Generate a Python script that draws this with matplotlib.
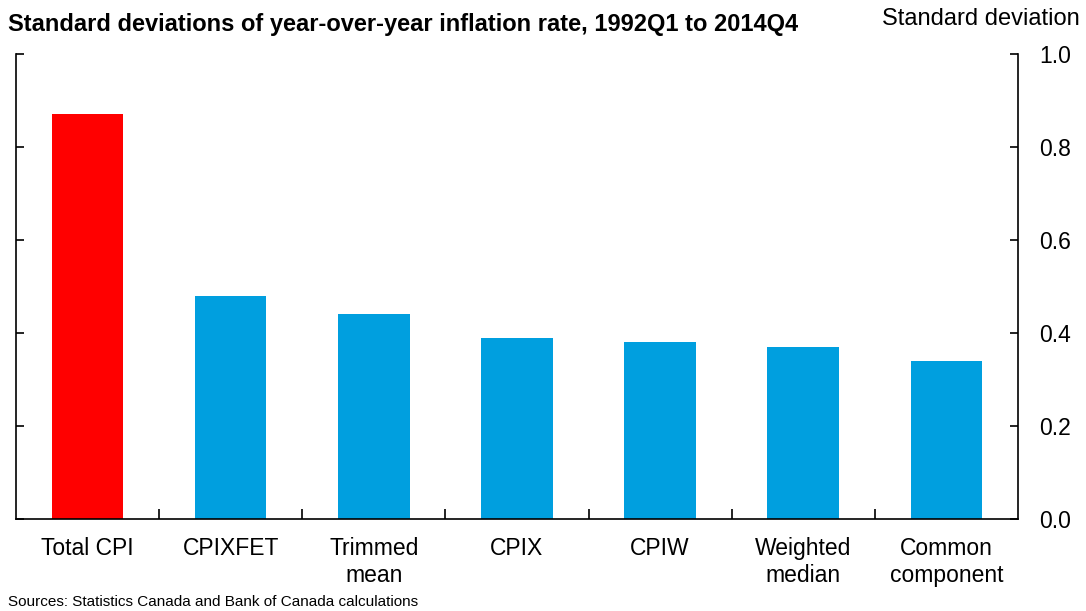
import matplotlib.pyplot as plt
import numpy as np

plt.rcParams['font.family'] = ['Liberation Sans', 'DejaVu Sans']

categories = ["Total CPI", "CPIXFET", "Trimmed\nmean", "CPIX", "CPIW", "Weighted\nmedian", "Common\ncomponent"]
std_dev = [0.87, 0.48, 0.44, 0.39, 0.38, 0.37, 0.34]
bar_colors = ["#FF0000"] + ["#009FDF"] * 6
yticks = [0.0, 0.2, 0.4, 0.6, 0.8, 1.0]

fig = plt.figure(figsize=(10.86, 6.11), dpi=100)
ax = fig.add_axes([16 / 1086, 1 - 519 / 611, (1018 - 16) / 1086, (519 - 54) / 611])

x = np.arange(len(categories))
ax.bar(x, std_dev, width=0.5, color=bar_colors)

ax.set_xlim(-0.5, len(categories) - 0.5)
ax.set_ylim(0, 1.0)

# right axis labels, ticks inward on both sides
ax.set_yticks(yticks)
ax.yaxis.tick_right()
ax.tick_params(axis='y', which='both', direction='in', length=6, width=1.2,
               left=True, right=True, labelleft=False, labelright=True,
               labelsize=16.5, pad=15.5)
ax.set_yticklabels([f"{v:.1f}" for v in yticks])

# category labels centred, ticks between categories
ax.set_xticks(x)
ax.set_xticklabels(categories, fontsize=16.5, linespacing=1.2)
ax.tick_params(axis='x', which='major', length=0, pad=13)
ax.set_xticks(np.arange(0.5, len(categories) - 0.5, 1), minor=True)
ax.tick_params(axis='x', which='minor', direction='in', length=7, width=1.2)

ax.spines['top'].set_visible(False)
for s in ['left', 'right', 'bottom']:
    ax.spines[s].set_linewidth(1.2)

fig.text(8 / 1086, 1 - 31 / 611, "Standard deviations of year-over-year inflation rate, 1992Q1 to 2014Q4",
         fontsize=17, fontweight='bold', va='baseline', ha='left')
fig.text(882 / 1086, 1 - 25 / 611, "Standard deviation", fontsize=17, va='baseline', ha='left')
fig.text(8 / 1086, 1 - 602 / 611, "Sources: Statistics Canada and Bank of Canada calculations",
         fontsize=11, va='center', ha='left', family=['Liberation Sans Narrow', 'Liberation Sans'])

fig.savefig("out.png", dpi=100)
